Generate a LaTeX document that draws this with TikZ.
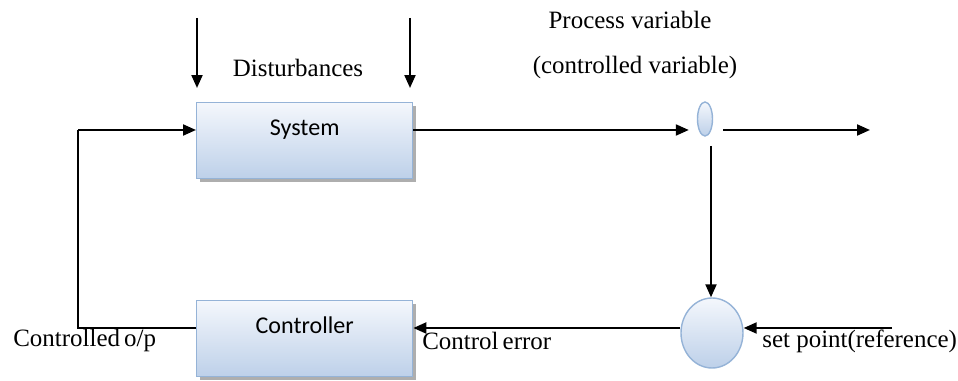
\documentclass[tikz,border=0pt]{standalone}
\usepackage{fontspec}
\setmainfont{Liberation Serif}
\newfontfamily\boxfont{Carlito}
\usetikzlibrary{
  positioning,
  arrows.meta,
  calc,
  shapes.geometric,
  shadows
}
\definecolor{edgeblue}{HTML}{95B3D7}
\definecolor{topblue}{HTML}{F4F7FC}
\definecolor{lowblue}{HTML}{BDD0E9}

\begin{document}
\begin{tikzpicture}[
  x=0.02cm, y=-0.02cm,
  block/.style={draw=edgeblue, line width=0.8pt, top color=topblue, bottom color=lowblue,
                minimum width=4.32cm, inner sep=0pt, text height=0.66cm, text depth=0.86cm,
                font=\boxfont\fontsize{13.7}{16}\selectfont,
                drop shadow={shadow xshift=0.06cm, shadow yshift=-0.06cm, fill=black!45, opacity=0.7}},
  junction/.style={ellipse, draw=edgeblue, line width=0.8pt, top color=topblue, bottom color=lowblue,
                   inner sep=0pt},
  lbl/.style={font=\fontsize{14.2}{17}\selectfont, inner sep=0pt},
  arr/.style={-{Triangle[length=0.26cm, width=0.22cm]}, line width=1.2pt},
  wire/.style={line width=1.2pt}
]
  \useasboundingbox (0,0) rectangle (958,381);

  % Blocks
  \node[block, anchor=north west] (sys) at (196,102) {System};
  \node[block, anchor=north west] (ctrl) at (196,300) {Controller};

  % Take-off point and summing junction
  \node[junction, minimum width=0.3cm, minimum height=0.68cm] (tap) at (705,119) {};
  \node[junction, minimum width=1.24cm, minimum height=1.4cm] (sum) at (712,333) {};

  % Signal levels
  \coordinate (top) at (0,130);
  \coordinate (bot) at (0,328);
  \coordinate (fb) at (78,0);
  \coordinate (d1) at (197,18);
  \coordinate (d2) at (410,18);
  \coordinate (out) at (870,130);
  \coordinate (pvout) at (723,130);
  \coordinate (pvdown) at (711,146);
  \coordinate (sp) at (892,328);

  % Labels
  \node[lbl] (dist) at (298,68) {Disturbances};
  \node[lbl] (pv) at (630,20) {Process variable};
  \node[lbl] (cv) at (635,68) {(controlled variable)};
  \node[lbl, anchor=west] (spl) at (762,341) {set point(reference)};
  \node[lbl, anchor=west] (err) at (422,341) {Control\,error};
  \node[lbl, anchor=west] (cop) at (13,341) {Controlled\,o/p};

  % Disturbances
  \draw[arr, shorten >=0.28cm] (d1) -- (d1 |- sys.north);
  \draw[arr, shorten >=0.28cm] (d2) -- (d2 |- sys.north);

  % Forward path
  \draw[arr, shorten >=0.16cm] (sys.east |- top) -- (tap.west |- top);
  \draw[arr] (pvout) -- (out);
  \draw[arr] (pvdown) -- (pvdown |- sum.north);

  % Error and feedback
  \draw[arr] (sp) -- (sum.east |- sp);
  \draw[arr] (sum.west |- bot) -- (ctrl.east |- bot);
  \draw[wire] (ctrl.west |- bot) -- (fb |- bot) -- (fb |- top);
  \draw[arr] (fb |- top) -- (sys.west |- top);
\end{tikzpicture}
\end{document}
